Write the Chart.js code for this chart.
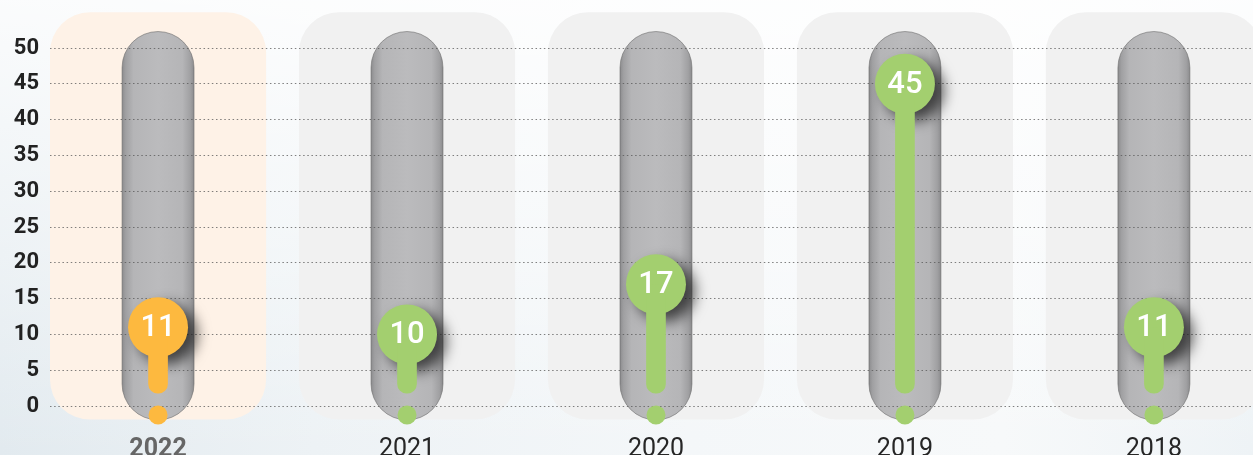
<!DOCTYPE html>
<html><head><meta charset="utf-8">
<script src="https://cdn.jsdelivr.net/npm/chart.js@4.4.1/dist/chart.umd.min.js"></script>
<style>
html,body{margin:0;padding:0;}
body{width:1253px;height:455px;overflow:hidden;
background:
 linear-gradient(180deg, rgba(255,255,255,0.85) 0%, rgba(255,255,255,0.35) 60%, rgba(255,255,255,0) 100%),
 linear-gradient(90deg, #e2eaef 0%, #edf2f5 25%, #f4f7f9 55%, #f7f9fa 80%, #eef3f6 100%);}
#wrap{position:relative;width:1253px;height:455px;}
</style></head><body><div id="wrap"><canvas id="c"></canvas></div>
<script>
// ---- data ----
const years = ['2022', '2021', '2020', '2019', '2018'];
const values = [11, 10, 17, 45, 11];
const yTickValues = [0, 5, 10, 15, 20, 25, 30, 35, 40, 45, 50];

// ---- style ----
const HIGHLIGHT = 0;
const ORANGE = '#fdb93f';
const GREEN = '#a3cf6f';
const colorFor = i => (i === HIGHLIGHT ? ORANGE : GREEN);
const idx = years.map((_, i) => i);

const decor = {
  id: 'decor',
  beforeDraw(chart) {
    const {ctx, scales: {x, y}} = chart;
    const ppu = x.getPixelForValue(1) - x.getPixelForValue(0);
    ctx.save();
    idx.forEach(i => {
      const cx = x.getPixelForValue(i);
      // panel
      const pw = ppu * 0.868;
      const pt = y.getPixelForValue(55.0), pb = y.getPixelForValue(-1.9);
      ctx.beginPath();
      ctx.roundRect(cx - pw / 2, pt, pw, pb - pt, 40);
      ctx.fillStyle = i === HIGHLIGHT ? '#fef2e7' : '#f1f1f1';
      ctx.fill();
      // tube
      const tw = ppu * 0.289;
      const tt = y.getPixelForValue(52.3), tb = y.getPixelForValue(-1.95);
      const g = ctx.createLinearGradient(cx - tw / 2, 0, cx + tw / 2, 0);
      g.addColorStop(0, '#8c8c8e');
      g.addColorStop(0.05, '#a0a0a2');
      g.addColorStop(0.16, '#b5b5b7');
      g.addColorStop(0.5, '#bbbbbd');
      g.addColorStop(0.84, '#b5b5b7');
      g.addColorStop(0.95, '#a0a0a2');
      g.addColorStop(1, '#8c8c8e');
      ctx.beginPath();
      ctx.roundRect(cx - tw / 2, tt, tw, tb - tt, tw / 2);
      ctx.fillStyle = g;
      ctx.fill();
      ctx.lineWidth = 1;
      ctx.strokeStyle = 'rgba(100,100,100,0.55)';
      ctx.stroke();
    });
    ctx.restore();
  },
  beforeDatasetDraw(chart, args) {
    if (args.index === 0) {
      const ctx = chart.ctx;
      ctx.save();
      ctx.shadowColor = 'rgba(0,0,0,0.65)';
      ctx.shadowBlur = 14;
      ctx.shadowOffsetX = 9;
      ctx.shadowOffsetY = 7;
    }
  },
  afterDatasetDraw(chart, args) {
    if (args.index === 0) chart.ctx.restore();
  },
  afterDatasetsDraw(chart) {
    const ctx = chart.ctx;
    const meta = chart.getDatasetMeta(0);
    ctx.save();
    ctx.fillStyle = '#ffffff';
    ctx.font = '500 31px Roboto';
    ctx.textAlign = 'center';
    ctx.textBaseline = 'middle';
    meta.data.forEach((pt, i) => {
      ctx.fillText(String(values[i]), pt.x, pt.y + 1);
    });
    ctx.restore();
  }
};

new Chart(document.getElementById('c'), {
  type: 'scatter',
  data: {
    datasets: [
      {
        type: 'scatter',
        data: idx.map(i => ({x: i, y: values[i]})),
        pointRadius: 30,
        pointHoverRadius: 30,
        pointBorderWidth: 0,
        backgroundColor: idx.map(colorFor),
        borderColor: idx.map(colorFor),
        clip: false,
        order: 3
      },
      {
        type: 'bar',
        data: idx.map(i => ({x: i, y: [1.8, values[i]]})),
        backgroundColor: idx.map(colorFor),
        barThickness: 19,
        borderRadius: 10,
        borderSkipped: false,
        clip: false,
        order: 2
      },
      {
        type: 'scatter',
        data: idx.map(i => ({x: i, y: -1.25})),
        pointRadius: 9.5,
        pointBorderWidth: 0,
        backgroundColor: idx.map(colorFor),
        borderColor: idx.map(colorFor),
        clip: false,
        order: 1
      }
    ]
  },
  options: {
    responsive: true,
    maintainAspectRatio: false,
    animation: false,
    events: [],
    layout: {autoPadding: false, padding: {top: 48, left: 0, right: 0, bottom: 0}},
    plugins: {legend: {display: false}, tooltip: {enabled: false}},
    scales: {
      x: {
        type: 'linear',
        min: -0.434,
        max: 4.398,
        offset: false,
        grid: {display: false},
        border: {display: false},
        afterBuildTicks: s => { s.ticks = idx.map(v => ({value: v})); },
        afterFit: s => { s.height = 49; s.paddingLeft = 0; s.paddingRight = 0; },
        ticks: {
          autoSkip: false,
          maxRotation: 0,
          padding: 21,
          callback: v => years[v],
          color: c => (c.index === HIGHLIGHT ? '#666666' : '#262626'),
          font: c => ({family: 'Roboto', size: 25, weight: c.index === HIGHLIGHT ? 'bold' : 'normal'})
        }
      },
      y: {
        min: 0,
        max: 50,
        grid: {
          color: 'rgba(85,85,85,0.75)',
          lineWidth: 1,
          drawTicks: false
        },
        border: {display: false, dash: [1.5, 2.65]},
        afterBuildTicks: s => { s.ticks = yTickValues.map(v => ({value: v})); },
        afterFit: s => { s.width = 50; },
        ticks: {
          padding: 11,
          color: '#222222',
          font: {family: 'Roboto', size: 22, weight: 'bold'}
        }
      }
    }
  },
  plugins: [decor]
});
</script>
</body></html>
